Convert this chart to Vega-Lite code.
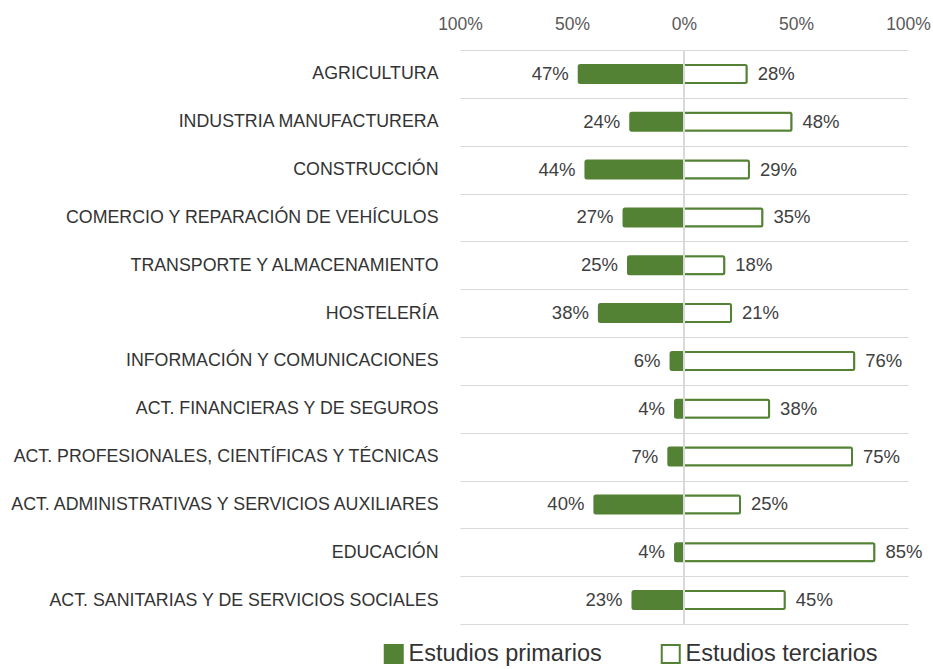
{
  "$schema": "https://vega.github.io/schema/vega-lite/v6.json",
  "width": 448,
  "height": 574,
  "autosize": {"type": "none"},
  "padding": {"left": 460, "top": 50, "right": 25, "bottom": 45},
  "background": "white",
  "config": {
    "view": {"stroke": null},
    "font": "Liberation Sans"
  },
  "data": {
    "values": [
      {"sector": "AGRICULTURA", "tipo": "Estudios primarios", "valor": 0.47},
      {"sector": "AGRICULTURA", "tipo": "Estudios terciarios", "valor": 0.28},
      {"sector": "INDUSTRIA MANUFACTURERA", "tipo": "Estudios primarios", "valor": 0.24},
      {"sector": "INDUSTRIA MANUFACTURERA", "tipo": "Estudios terciarios", "valor": 0.48},
      {"sector": "CONSTRUCCIÓN", "tipo": "Estudios primarios", "valor": 0.44},
      {"sector": "CONSTRUCCIÓN", "tipo": "Estudios terciarios", "valor": 0.29},
      {"sector": "COMERCIO Y REPARACIÓN DE VEHÍCULOS", "tipo": "Estudios primarios", "valor": 0.27},
      {"sector": "COMERCIO Y REPARACIÓN DE VEHÍCULOS", "tipo": "Estudios terciarios", "valor": 0.35},
      {"sector": "TRANSPORTE Y ALMACENAMIENTO", "tipo": "Estudios primarios", "valor": 0.25},
      {"sector": "TRANSPORTE Y ALMACENAMIENTO", "tipo": "Estudios terciarios", "valor": 0.18},
      {"sector": "HOSTELERÍA", "tipo": "Estudios primarios", "valor": 0.38},
      {"sector": "HOSTELERÍA", "tipo": "Estudios terciarios", "valor": 0.21},
      {"sector": "INFORMACIÓN Y COMUNICACIONES", "tipo": "Estudios primarios", "valor": 0.06},
      {"sector": "INFORMACIÓN Y COMUNICACIONES", "tipo": "Estudios terciarios", "valor": 0.76},
      {"sector": "ACT. FINANCIERAS Y DE SEGUROS", "tipo": "Estudios primarios", "valor": 0.04},
      {"sector": "ACT. FINANCIERAS Y DE SEGUROS", "tipo": "Estudios terciarios", "valor": 0.38},
      {"sector": "ACT. PROFESIONALES, CIENTÍFICAS Y TÉCNICAS", "tipo": "Estudios primarios", "valor": 0.07},
      {"sector": "ACT. PROFESIONALES, CIENTÍFICAS Y TÉCNICAS", "tipo": "Estudios terciarios", "valor": 0.75},
      {"sector": "ACT. ADMINISTRATIVAS Y SERVICIOS AUXILIARES", "tipo": "Estudios primarios", "valor": 0.40},
      {"sector": "ACT. ADMINISTRATIVAS Y SERVICIOS AUXILIARES", "tipo": "Estudios terciarios", "valor": 0.25},
      {"sector": "EDUCACIÓN", "tipo": "Estudios primarios", "valor": 0.04},
      {"sector": "EDUCACIÓN", "tipo": "Estudios terciarios", "valor": 0.85},
      {"sector": "ACT. SANITARIAS Y DE SERVICIOS SOCIALES", "tipo": "Estudios primarios", "valor": 0.23},
      {"sector": "ACT. SANITARIAS Y DE SERVICIOS SOCIALES", "tipo": "Estudios terciarios", "valor": 0.45}
    ]
  },
  "transform": [
    {"calculate": "datum.tipo == 'Estudios primarios' ? -datum.valor : datum.valor", "as": "x"}
  ],
  "encoding": {
    "y": {
      "field": "sector",
      "type": "nominal",
      "sort": null,
      "title": null,
      "scale": {"paddingInner": 0, "paddingOuter": 0},
      "axis": {
        "ticks": false,
        "domain": false,
        "grid": true,
        "gridColor": "#d9d9d9",
        "gridWidth": 1,
        "tickBand": "extent",
        "labelPadding": 22,
        "labelFontSize": 17.8,
        "labelColor": "#333333",
        "labelLimit": 500
      }
    },
    "x": {
      "field": "x",
      "type": "quantitative",
      "title": null,
      "scale": {"domain": [-1, 1], "nice": false},
      "axis": {
        "orient": "top",
        "values": [-1, -0.5, 0, 0.5, 1],
        "labelExpr": "format(abs(datum.value), '.0%')",
        "grid": false,
        "ticks": false,
        "domain": false,
        "labelFlush": false,
        "labelPadding": 17,
        "labelFontSize": 17.5,
        "labelColor": "#595959"
      }
    }
  },
  "layer": [
    {
      "mark": {"type": "bar", "size": 18, "stroke": "#548235", "strokeWidth": 2, "cornerRadius": 1.5},
      "encoding": {
        "fill": {
          "field": "tipo",
          "type": "nominal",
          "scale": {"domain": ["Estudios primarios", "Estudios terciarios"], "range": ["#548235", "#ffffff"]},
          "legend": {
            "title": null,
            "orient": "none",
            "direction": "horizontal",
            "legendX": -78,
            "legendY": 592,
            "symbolType": "square",
            "symbolSize": 324,
            "symbolStrokeColor": "#548235",
            "symbolStrokeWidth": 2,
            "symbolOpacity": 1,
            "labelFontSize": 23.5,
            "labelColor": "#333333",
            "labelOffset": 3,
            "columnPadding": 55,
            "labelLimit": 400
          }
        }
      }
    },
    {
      "mark": {"type": "rule", "color": "#d9d9d9", "strokeWidth": 1},
      "encoding": {"x": {"datum": 0}, "y": null}
    },
    {
      "transform": [{"filter": "datum.tipo == 'Estudios primarios'"}],
      "mark": {"type": "text", "align": "right", "baseline": "middle", "dx": -10, "fontSize": 18.5, "color": "#404040"},
      "encoding": {"text": {"field": "valor", "type": "quantitative", "format": ".0%"}}
    },
    {
      "transform": [{"filter": "datum.tipo == 'Estudios terciarios'"}],
      "mark": {"type": "text", "align": "left", "baseline": "middle", "dx": 11, "fontSize": 18.5, "color": "#404040"},
      "encoding": {"text": {"field": "valor", "type": "quantitative", "format": ".0%"}}
    }
  ]
}
